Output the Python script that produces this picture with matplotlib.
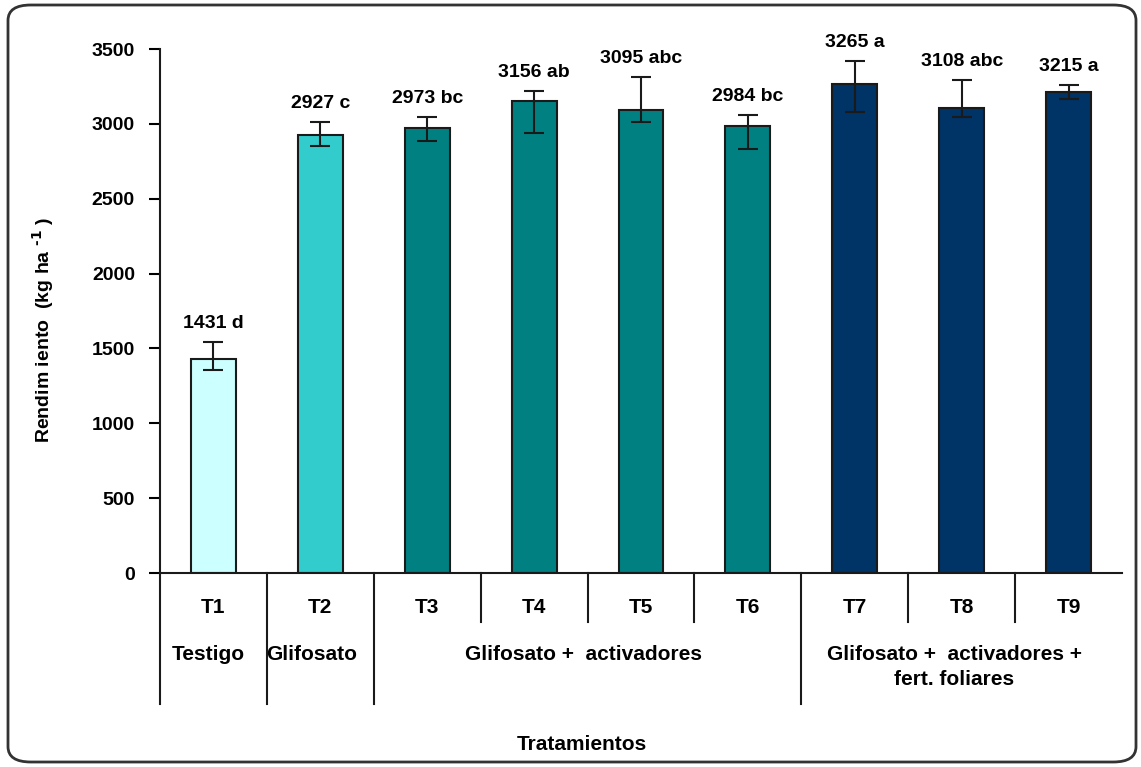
import matplotlib.pyplot as plt
from matplotlib.patches import FancyBboxPatch
import numpy as np

plt.rcParams['font.family'] = ['Liberation Sans', 'DejaVu Sans']
plt.rcParams['font.weight'] = 'bold'
plt.rcParams['mathtext.default'] = 'bf'

treatments = ["T1", "T2", "T3", "T4", "T5", "T6", "T7", "T8", "T9"]
yields = [1431, 2927, 2973, 3156, 3095, 2984, 3265, 3108, 3215]
letters = ["d", "c", "bc", "ab", "abc", "bc", "a", "abc", "a"]
err_low = [1356, 2852, 2886, 2939, 3013, 2832, 3080, 3046, 3165]
err_high = [1543, 3013, 3046, 3220, 3313, 3060, 3420, 3293, 3260]
colors = ["#CCFFFF", "#33CCCC", "#008080", "#008080", "#008080", "#008080",
          "#003366", "#003366", "#003366"]

groups = ["Testigo", "Glifosato", "Glifosato +  activadores",
          "Glifosato +  activadores +\nfert. foliares"]
group_x = [-0.05, 0.92, 3.46, 6.93]
long_div = [-0.5, 0.5, 1.5, 5.5]
short_div = [2.5, 3.5, 4.5, 6.5, 7.5]

fig = plt.figure(figsize=(11.41, 7.67), dpi=100)
ax = fig.add_axes([0.1402, 0.2529, 0.8432, 0.6832])

x = np.arange(len(treatments))
y = np.array(yields)
lo = y - np.array(err_low)
hi = np.array(err_high) - y
ax.bar(x, y, width=0.42, color=colors, edgecolor="#1a1a1a", linewidth=1.5, zorder=2)
ax.errorbar(x, y, yerr=[lo, hi], fmt="none", ecolor="#1a1a1a", elinewidth=1.5,
            capsize=7, capthick=1.5, zorder=3)

# etiquetas de media + letras
for xi, top, v, l in zip(x, err_high, yields, letters):
    ax.annotate(f"{v} {l}", (xi, top), xytext=(0, 7), textcoords="offset points",
                ha="center", va="bottom", fontsize=14, fontweight="bold")

ax.set_xlim(-0.5, 8.5)
ax.set_ylim(0, 3500)
ax.set_yticks(np.arange(0, 3501, 500))
ax.tick_params(axis="y", direction="out", length=8, width=1.5, labelsize=14, pad=10)
ax.set_xticks([])
for s in ["top", "right"]:
    ax.spines[s].set_visible(False)
for s in ["left", "bottom"]:
    ax.spines[s].set_linewidth(1.5)
    ax.spines[s].set_color("#1a1a1a")

# tabla de tratamientos bajo el eje
tr = ax.get_xaxis_transform()
for d in long_div:
    ax.plot([d, d], [0, -0.25], transform=tr, color="#1a1a1a", lw=1.5, clip_on=False)
for d in short_div:
    ax.plot([d, d], [0, -0.0935], transform=tr, color="#1a1a1a", lw=1.5, clip_on=False)
for xi, t in zip(x, treatments):
    ax.text(xi, -0.065, t, transform=tr, ha="center", va="center", fontsize=15,
            fontweight="bold")
for gx, g in zip(group_x, groups):
    ax.text(gx, -0.138, g, transform=tr, ha="center", va="top", fontsize=15,
            fontweight="bold", linespacing=1.35)

fig.text(0.51, 1 - 745 / 767, "Tratamientos", ha="center", va="center",
         fontsize=15, fontweight="bold")
fig.text(0.038, 1 - 330 / 767, r"Rendim iento  (kg ha $^{\text{-1}}$ )",
         rotation=90, ha="center", va="center", fontsize=14, fontweight="bold")

frame = FancyBboxPatch((8 / 1141, 5 / 767), 1128 / 1141, 757 / 767,
                       boxstyle="round,pad=0,rounding_size=0.02",
                       transform=fig.transFigure, fill=False, edgecolor="#333333",
                       linewidth=2)
fig.patches.append(frame)

fig.savefig("out.png", dpi=100)
